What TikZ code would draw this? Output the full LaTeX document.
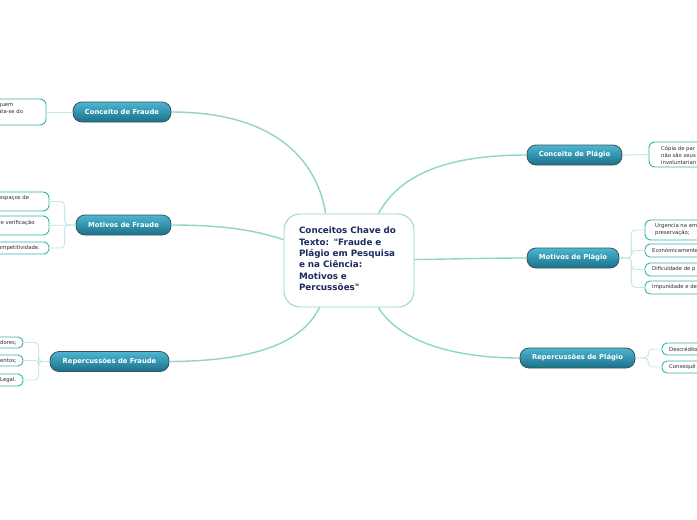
\documentclass[tikz,border=0pt]{standalone}
\usepackage{fontspec}
\setmainfont{DejaVu Sans}
\begin{document}
\begin{tikzpicture}[x=1pt,y=-1pt]
\definecolor{mainc}{HTML}{8ED5CA}
\definecolor{subc}{HTML}{C3EAE4}
\definecolor{leafc}{HTML}{35B2AE}
\definecolor{btop}{HTML}{4DB6D2}
\definecolor{bbot}{HTML}{1A7089}
\definecolor{brd}{HTML}{3A525C}
\definecolor{navy}{HTML}{1C2B5E}
\definecolor{ltxt}{HTML}{2A2A2A}
\tikzset{
  ctr/.style={draw=mainc, line width=0.9pt, rounded corners=16pt, fill=white,
    minimum width=130pt, minimum height=93pt, text width=100pt, align=left,
    text=navy, font=\fontsize{8.8}{11.3}\selectfont\bfseries, inner sep=0pt},
  branch/.style={rounded corners=9pt, draw=brd, line width=0.8pt,
    top color=btop, bottom color=bbot, text=white,
    font=\fontsize{6.8}{8}\selectfont\bfseries, minimum height=20pt, inner sep=0pt},
  leafbox/.style={draw=leafc, line width=0.9pt, rounded corners=6pt, fill=white, inner sep=0pt},
  leaftxt/.style={text=ltxt, font=\fontsize{5.3}{7}\selectfont, align=left, inner sep=0pt, anchor=west},
  mainline/.style={draw=mainc, line width=1.4pt},
  subline/.style={draw=subc, line width=0.9pt, rounded corners=4pt},
}
\useasboundingbox (0,0) rectangle (697,520);
\clip (0,0) rectangle (697,520);
\fill[white] (0,0) rectangle (697,520);

% center
\node[ctr] (c) at (349,260.5) {\raisebox{0pt}[0pt][0pt]{}\\[-8pt]Conceitos Chave do\\Texto: \textquotedbl Fraude e\\Plágio em Pesquisa\\e na Ciência:\\Motivos e\\Percussões\textquotedbl};

% branches
\node[branch, minimum width=98pt] (cf) at (122,112) {Conceito de Fraude};
\node[branch, minimum width=95pt] (mf) at (123.5,225) {Motivos de Fraude};
\node[branch, minimum width=119pt] (rf) at (109.5,361.5) {Repercussões de Fraude};
\node[branch, minimum width=95pt] (cp) at (574.5,155) {Conceito de Plágio};
\node[branch, minimum width=92pt] (mp) at (573,258) {Motivos de Plágio};
\node[branch, minimum width=115pt] (rp) at (577.5,358) {Repercussões de Plágio};

% main connectors
\coordinate (c1) at ([xshift=42pt]c.north west);
\coordinate (c2) at ([yshift=-26pt]c.north west);
\coordinate (c3) at ([xshift=36pt]c.south west);
\coordinate (c4) at ([xshift=-36pt]c.north east);
\coordinate (c5) at ([yshift=-46pt]c.north east);
\coordinate (c6) at ([xshift=-36pt]c.south east);
\draw[mainline] (cf.east) .. controls (290,112) and (320,175) .. (c1);
\draw[mainline] (mf.east) .. controls (235,225) and (262,233) .. (c2);
\draw[mainline] (rf.east) .. controls (280,361) and (308,330) .. (c3);
\draw[mainline] (c4) .. controls (398,178) and (440,155) .. (cp.west);
\draw[mainline] (c5) .. controls (455,259) and (490,258) .. (mp.west);
\draw[mainline] (c6) .. controls (398,340) and (450,358) .. (rp.west);

% leaves left
\node[leafbox, minimum width=56pt, minimum height=26pt] (l1) at (18,112) {};
\node[leafbox, minimum width=59pt, minimum height=19pt] (l2) at (19.5,201.5) {};
\node[leafbox, minimum width=59pt, minimum height=19pt] (l3) at (19.5,225.5) {};
\node[leafbox, minimum width=59pt, minimum height=12pt, rounded corners=5pt] (l4) at (19.5,248) {};
\node[leafbox, minimum width=33pt, minimum height=11pt, rounded corners=5pt] (l5) at (6.5,342.5) {};
\node[leafbox, minimum width=33pt, minimum height=11pt, rounded corners=5pt] (l6) at (6.5,360.5) {};
\node[leafbox, minimum width=33pt, minimum height=12pt, rounded corners=5pt] (l7) at (6.5,380) {};
\node[leaftxt] (tl1) at (-2,108.5) {quem\\ata-se do};
\node[leaftxt] (tl2) at (-1,198) {espaços de};
\node[leaftxt] (tl3) at (0.5,223) {e verificação};
\node[leaftxt] (tl4) at (-2,248) {ompetitividade.};
\node[leaftxt] (tl5) at (0,342.5) {dores;};
\node[leaftxt] (tl6) at (0,360.5) {entos;};
\node[leaftxt] (tl7) at (0,380) {Legal.};

% leaves right
\node[leafbox, minimum width=61pt, minimum height=25pt] (r1) at (679.5,154.5) {};
\node[leafbox, minimum width=65pt, minimum height=20pt] (r2) at (677.5,230) {};
\node[leafbox, minimum width=65pt, minimum height=13pt, rounded corners=5pt] (r3) at (677.5,250.5) {};
\node[leafbox, minimum width=65pt, minimum height=13pt, rounded corners=5pt] (r4) at (677.5,269.5) {};
\node[leafbox, minimum width=65pt, minimum height=13pt, rounded corners=5pt] (r5) at (677.5,287.5) {};
\node[leafbox, minimum width=48pt, minimum height=12pt, rounded corners=5pt] (r6) at (686,349) {};
\node[leafbox, minimum width=48pt, minimum height=12pt, rounded corners=5pt] (r7) at (686,367) {};
\node[leaftxt] (tr1) at (661,155) {Cópia de par\\não são seus\\involuntarian};
\node[leaftxt] (tr2) at (655,229.5) {Urgencia na em\\preservação;};
\node[leaftxt] (tr3) at (652,250.5) {Económicamente};
\node[leaftxt] (tr4) at (652,269.5) {Dificuldade de p};
\node[leaftxt] (tr5) at (652,287.5) {Impunidade e de};
\node[leaftxt] (tr6) at (669,349) {Descrédito};
\node[leaftxt] (tr7) at (669,367) {Consequê};

% sub connectors
\draw[subline] (cf.west) -- (l1.east);
\draw[subline] (mf.west) -- ++(-11,0) |- (l2.east);
\draw[subline] (mf.west) -- (l3.east);
\draw[subline] (mf.west) -- ++(-11,0) |- (l4.east);
\draw[subline] (rf.west) -- ++(-11,0) |- (l5.east);
\draw[subline] (rf.west) -- ++(-11,0) |- (l6.east);
\draw[subline] (rf.west) -- ++(-11,0) |- (l7.east);
\draw[subline] (cp.east) -- (r1.west);
\draw[subline] (mp.east) -- ++(12,0) |- (r2.west);
\draw[subline] (mp.east) -- ++(12,0) |- (r3.west);
\draw[subline] (mp.east) -- ++(12,0) |- (r4.west);
\draw[subline] (mp.east) -- ++(12,0) |- (r5.west);
\draw[subline] (rp.east) -- ++(13,0) |- (r6.west);
\draw[subline] (rp.east) -- ++(13,0) |- (r7.west);
\end{tikzpicture}
\end{document}
